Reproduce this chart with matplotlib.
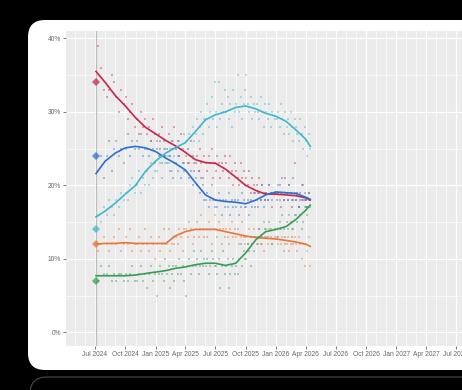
# uk_polls_since_2024.py
# Voting intention polls since the July 2024 election, dots + smoothed trend per party

import pandas as pd
import matplotlib
matplotlib.use("Agg")
import matplotlib.pyplot as plt
import matplotlib.dates as mdates
from matplotlib.patches import FancyBboxPatch
from matplotlib.ticker import MultipleLocator, FuncFormatter

# === 1. Data ===
parties = ["Labour", "Conservative", "Reform", "Lib Dem", "Green"]
colors = ["#C8264A", "#2F6FCF", "#3DB7CB", "#E8773A", "#3A9B58"]

election_date = "2024-07-04"
election_result = [34, 24, 14, 12, 7]

poll_dates = [
    "2024-07-10", "2024-07-20", "2024-07-28",
    "2024-08-05", "2024-08-13", "2024-08-21", "2024-08-28",
    "2024-09-04", "2024-09-12", "2024-09-19", "2024-09-26",
    "2024-10-02", "2024-10-08", "2024-10-15", "2024-10-22", "2024-10-29",
    "2024-11-04", "2024-11-11", "2024-11-18", "2024-11-24", "2024-11-30",
    "2024-12-05", "2024-12-11", "2024-12-17", "2024-12-23", "2024-12-30",
    "2025-01-05", "2025-01-10", "2025-01-15", "2025-01-20", "2025-01-25", "2025-01-30",
    "2025-02-04", "2025-02-09", "2025-02-14", "2025-02-19", "2025-02-23", "2025-02-27",
    "2025-03-04", "2025-03-09", "2025-03-14", "2025-03-19", "2025-03-24", "2025-03-29",
    "2025-04-03", "2025-04-08", "2025-04-13", "2025-04-18", "2025-04-23", "2025-04-28",
    "2025-05-02", "2025-05-07", "2025-05-11", "2025-05-16", "2025-05-20", "2025-05-24", "2025-05-29",
    "2025-06-03", "2025-06-07", "2025-06-12", "2025-06-16", "2025-06-20", "2025-06-25", "2025-06-29",
    "2025-07-03", "2025-07-07", "2025-07-12", "2025-07-16", "2025-07-20", "2025-07-25", "2025-07-29",
    "2025-08-03", "2025-08-07", "2025-08-12", "2025-08-16", "2025-08-20", "2025-08-25", "2025-08-29",
    "2025-09-03", "2025-09-07", "2025-09-12", "2025-09-16", "2025-09-20", "2025-09-25", "2025-09-29",
    "2025-10-03", "2025-10-07", "2025-10-12", "2025-10-16", "2025-10-20", "2025-10-25", "2025-10-29",
    "2025-11-03", "2025-11-07", "2025-11-12", "2025-11-16", "2025-11-20", "2025-11-25", "2025-11-29",
    "2025-12-03", "2025-12-08", "2025-12-12", "2025-12-16", "2025-12-20", "2025-12-28",
    "2026-01-03", "2026-01-07", "2026-01-12", "2026-01-16", "2026-01-20", "2026-01-25", "2026-01-29",
    "2026-02-03", "2026-02-07", "2026-02-11", "2026-02-15", "2026-02-19", "2026-02-23", "2026-02-27",
    "2026-03-03", "2026-03-07", "2026-03-12", "2026-03-16", "2026-03-20", "2026-03-25", "2026-03-29",
    "2026-04-02", "2026-04-06", "2026-04-10", "2026-04-14",
]

lab_polls = [
    39, 36, 33,
    32, 33, 35, 34,
    32, 30, 33, 31,
    32, 29, 30, 31, 28,
    29, 27, 30, 28, 29,
    27, 28, 26, 29, 27,
    26, 27, 25, 28, 26, 24,
    25, 27, 24, 26, 25, 28,
    25, 26, 24, 27, 25, 23,
    24, 25, 23, 26, 24, 22,
    23, 24, 22, 25, 23, 21, 24,
    23, 22, 24, 23, 25, 21, 23,
    22, 24, 23, 21, 23, 22, 24,
    23, 22, 21, 24, 22, 20, 23,
    22, 21, 20, 23, 21, 22, 20,
    21, 20, 22, 19, 21, 20, 19,
    20, 19, 21, 18, 20, 19, 18,
    19, 18, 20, 19, 17, 19,
    18, 19, 20, 17, 19, 18, 21,
    19, 18, 20, 19, 17, 18, 23,
    18, 19, 17, 19, 18, 20, 18,
    18, 17, 19, 18,
]

con_polls = [
    22, 24, 21,
    24, 26, 22, 25,
    26, 24, 25, 23,
    25, 27, 24, 26, 25,
    26, 25, 27, 24, 25,
    25, 24, 26, 25, 23,
    25, 24, 26, 23, 24, 25,
    23, 24, 22, 25, 21, 23,
    23, 22, 24, 21, 23, 22,
    22, 23, 21, 22, 20, 23,
    21, 20, 22, 19, 21, 20, 18,
    18, 19, 17, 18, 20, 18, 17,
    18, 17, 19, 18, 16, 18, 17,
    18, 17, 19, 16, 18, 17, 18,
    17, 18, 16, 17, 19, 18, 17,
    17, 18, 16, 18, 17, 19, 17,
    18, 17, 19, 18, 20, 17, 18,
    19, 18, 20, 19, 18, 19,
    19, 20, 18, 19, 21, 18, 19,
    19, 18, 20, 19, 18, 21, 19,
    18, 19, 17, 18, 20, 18, 19,
    18, 17, 19, 18,
]

ref_polls = [
    16, 15, 17,
    16, 18, 17, 16,
    18, 17, 19, 18,
    19, 18, 20, 21, 19,
    20, 22, 19, 21, 20,
    22, 20, 23, 21, 22,
    22, 24, 23, 21, 25, 23,
    24, 23, 25, 22, 26, 24,
    25, 24, 26, 25, 23, 27,
    26, 25, 27, 24, 28, 26,
    27, 29, 26, 28, 30, 27, 29,
    29, 31, 28, 30, 32, 29, 34,
    30, 28, 34, 29, 31, 30, 33,
    30, 32, 29, 31, 28, 33, 30,
    31, 35, 30, 32, 29, 31, 33,
    35, 31, 30, 32, 29, 31, 30,
    31, 30, 29, 32, 30, 28, 31,
    30, 29, 31, 28, 30, 29,
    29, 30, 28, 31, 29, 27, 30,
    28, 29, 27, 30, 28, 26, 29,
    28, 27, 26, 29, 27, 25, 28,
    26, 24, 27, 25,
]

ld_polls = [
    11, 12, 13,
    12, 11, 12, 13,
    12, 14, 11, 12,
    13, 12, 14, 11, 12,
    12, 13, 11, 12, 14,
    12, 11, 13, 12, 10,
    12, 13, 11, 12, 14, 12,
    12, 14, 11, 12, 13, 12,
    13, 12, 14, 13, 11, 14,
    14, 13, 15, 14, 12, 13,
    14, 15, 13, 14, 16, 14, 13,
    14, 13, 15, 14, 12, 14, 16,
    14, 13, 15, 14, 12, 14, 13,
    14, 13, 12, 14, 15, 13, 14,
    13, 14, 12, 13, 15, 13, 12,
    13, 12, 14, 13, 12, 14, 13,
    13, 12, 14, 13, 12, 11, 13,
    13, 12, 14, 13, 12, 13,
    13, 12, 14, 12, 13, 11, 12,
    12, 13, 11, 12, 14, 12, 13,
    12, 11, 13, 12, 10, 12, 9,
    12, 11, 13, 9,
]

grn_polls = [
    7, 9, 8,
    8, 9, 7, 8,
    7, 8, 8, 7,
    8, 7, 8, 9, 7,
    7, 8, 9, 7, 8,
    6, 8, 9, 7, 8,
    5, 8, 9, 8, 7, 10,
    8, 9, 6, 8, 9, 7,
    9, 8, 10, 8, 9, 7,
    5, 9, 10, 8, 9, 11,
    9, 10, 8, 9, 11, 9, 10,
    9, 10, 8, 9, 11, 10, 9,
    9, 8, 10, 6, 9, 11, 8,
    9, 10, 6, 8, 9, 10, 8,
    9, 8, 10, 12, 9, 11, 10,
    10, 12, 11, 9, 12, 11, 13,
    12, 13, 14, 12, 13, 15, 14,
    14, 13, 15, 14, 12, 14,
    14, 13, 15, 14, 16, 14, 13,
    15, 14, 16, 15, 13, 14, 16,
    16, 15, 17, 16, 14, 15, 17,
    17, 16, 18, 17,
]

# smoothed trend, read at the start of each month
trend_dates = [
    "2024-07-04", "2024-08-01", "2024-09-01", "2024-10-01", "2024-11-01", "2024-12-01",
    "2025-01-01", "2025-02-01", "2025-03-01", "2025-04-01", "2025-05-01", "2025-06-01",
    "2025-07-01", "2025-08-01", "2025-09-01", "2025-10-01", "2025-11-01", "2025-12-01",
    "2026-01-01", "2026-02-01", "2026-03-01", "2026-04-01", "2026-04-15",
]
lab_trend = [35.5, 34.0, 32.2, 30.8, 29.2, 27.9, 27.0, 26.1, 25.4, 24.5, 23.5, 23.1,
             23.0, 22.2, 21.1, 20.0, 19.3, 18.8, 18.8, 18.7, 18.6, 18.3, 18.0]
con_trend = [21.6, 23.3, 24.4, 25.1, 25.3, 25.1, 24.6, 23.7, 23.0, 22.1, 20.4, 18.7,
             18.0, 17.8, 17.7, 17.5, 18.0, 18.7, 19.1, 19.0, 18.9, 18.4, 18.1]
ref_trend = [15.7, 16.5, 17.6, 18.8, 20.0, 21.9, 23.3, 24.4, 25.1, 25.8, 27.3, 28.9,
             29.6, 30.0, 30.6, 30.8, 30.4, 29.8, 29.4, 28.7, 27.6, 26.3, 25.3]
ld_trend = [12.0, 12.1, 12.1, 12.2, 12.1, 12.1, 12.1, 12.1, 13.1, 13.7, 14.0, 14.0,
            14.0, 13.7, 13.4, 13.1, 12.9, 12.8, 12.7, 12.5, 12.3, 12.0, 11.7]
grn_trend = [7.7, 7.7, 7.7, 7.7, 7.8, 8.0, 8.2, 8.4, 8.7, 8.9, 9.2, 9.4,
             9.4, 9.1, 9.4, 10.8, 12.6, 13.7, 14.0, 14.4, 15.3, 16.6, 17.3]

polls = [lab_polls, con_polls, ref_polls, ld_polls, grn_polls]
trends = [lab_trend, con_trend, ref_trend, ld_trend, grn_trend]

poll_x = pd.to_datetime(poll_dates)
trend_x = pd.to_datetime(trend_dates)
elec_x = pd.to_datetime(election_date)

# === 2. Figure: black page with a white rounded card ===
fig = plt.figure(figsize=(4.62, 3.9), dpi=100, facecolor="black")
card = FancyBboxPatch((0.28, 0.20), 5.0, 3.5, boxstyle="round,pad=0,rounding_size=0.17",
                      transform=fig.dpi_scale_trans, facecolor="white", edgecolor="none", zorder=-10)
fig.patches.append(card)
card2 = FancyBboxPatch((0.30, -1.0), 5.0, 1.13, boxstyle="round,pad=0,rounding_size=0.17",
                       transform=fig.dpi_scale_trans, facecolor="black", edgecolor="#4a4a4a",
                       linewidth=0.8, zorder=-10)
fig.patches.append(card2)

ax = fig.add_axes([66 / 462, 44 / 390, 414 / 462, 315 / 390])
ax.set_facecolor("#EBEBEB")
for s in ax.spines.values():
    s.set_visible(False)

# === 3. Polls, trends, election result ===
ax.axvline(elec_x, color="#BDBDBD", lw=0.9, zorder=1)
for i in range(len(parties)):
    ax.scatter(poll_x, polls[i], s=4.5, marker="s", color=colors[i], alpha=0.4,
               linewidths=0, zorder=2)
for i in range(len(parties)):
    ax.plot(trend_x, trends[i], color=colors[i], lw=1.2, zorder=3)
    ax.plot([elec_x], [election_result[i]], marker="D", ms=4.5, color=colors[i],
            alpha=0.75, markeredgewidth=0, zorder=4)

# === 4. Axes ===
ax.set_xlim(pd.to_datetime("2024-04-04"), pd.to_datetime("2027-09-12"))
ax.set_ylim(-1.86, 41.0)
ax.xaxis.set_major_locator(mdates.MonthLocator(bymonth=[1, 4, 7, 10]))
ax.xaxis.set_major_formatter(mdates.DateFormatter("%b %Y"))
ax.xaxis.set_minor_locator(mdates.MonthLocator())
ax.yaxis.set_major_locator(MultipleLocator(10))
ax.yaxis.set_minor_locator(MultipleLocator(5))
ax.yaxis.set_major_formatter(FuncFormatter(lambda v, p: f"{v:.0f}%"))

ax.grid(which="major", color="white", lw=0.9, zorder=0)
ax.grid(which="minor", color="white", lw=0.45, zorder=0)
ax.set_axisbelow(True)
ax.tick_params(which="major", length=2, width=0.6, color="#666666", labelsize=4.8,
               labelcolor="#666666", pad=1.5)
ax.tick_params(which="minor", length=0)
for t in ax.get_xticklabels() + ax.get_yticklabels():
    t.set_fontfamily("Liberation Sans")

fig.savefig("out.png", dpi=100, facecolor="black")
plt.close()
